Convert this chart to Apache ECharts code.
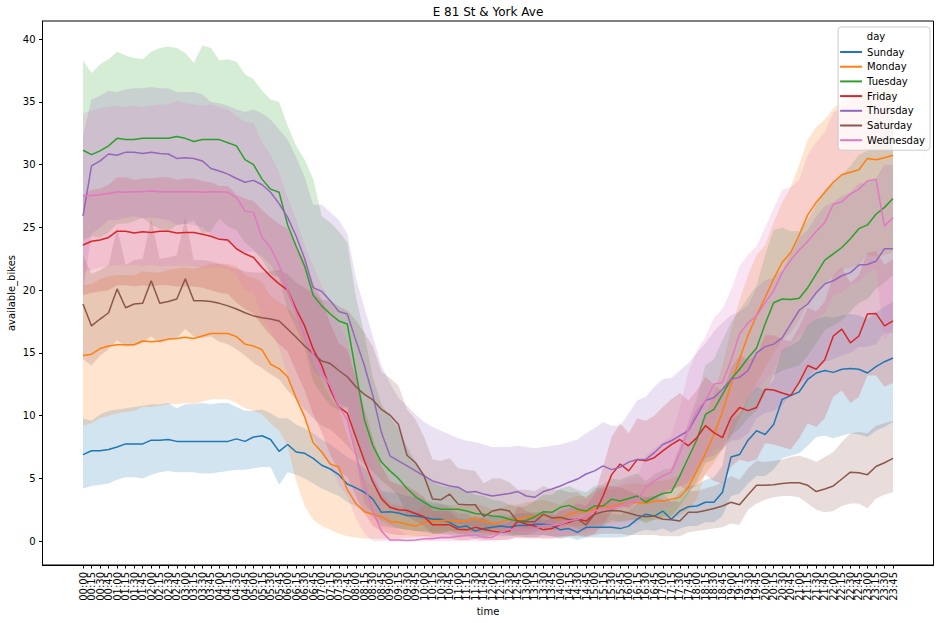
<!DOCTYPE html>
<html><head><meta charset="utf-8">
<script src="https://cdn.jsdelivr.net/npm/echarts@6/dist/echarts.min.js"></script>
<style>html,body{margin:0;padding:0;background:#fff}#c{width:945px;height:623px}</style>
</head><body><div id="c"></div>
<script>
const times = ["00:00","00:15","00:30","00:45","01:00","01:15","01:30","01:45","02:00","02:15","02:30","02:45","03:00","03:15","03:30","03:45","04:00","04:15","04:30","04:45","05:00","05:15","05:30","05:45","06:00","06:15","06:30","06:45","07:00","07:15","07:30","07:45","08:00","08:15","08:30","08:45","09:00","09:15","09:30","09:45","10:00","10:15","10:30","10:45","11:00","11:15","11:30","11:45","12:00","12:15","12:30","12:45","13:00","13:15","13:30","13:45","14:00","14:15","14:30","14:45","15:00","15:15","15:30","15:45","16:00","16:15","16:30","16:45","17:00","17:15","17:30","17:45","18:00","18:15","18:30","18:45","19:00","19:15","19:30","19:45","20:00","20:15","20:30","20:45","21:00","21:15","21:30","21:45","22:00","22:15","22:30","22:45","23:00","23:15","23:30","23:45"];
const days = ["Sunday","Monday","Tuesday","Friday","Thursday","Saturday","Wednesday"];
const yTicks = [0,5,10,15,20,25,30,35,40];

const sunday = [6.9,7.2,7.2,7.3,7.5,7.75,7.75,7.75,8.05,8.05,
8.1,7.95,7.95,7.95,7.95,7.95,7.95,7.95,8.15,7.95,
8.3,8.4,8.1,7.15,7.7,7.1,7.0,6.6,6.05,5.75,
5.3,4.55,4.25,3.9,3.35,2.3,2.35,2.25,2.05,2.0,
1.9,1.75,1.75,1.5,1.1,1.2,0.8,1.0,1.1,1.2,
1.1,1.25,1.25,1.35,1.35,1.25,0.9,1.0,0.7,1.1,
1.1,1.1,1.1,1.0,1.2,1.75,2.15,2.0,2.4,1.75,
2.4,2.75,2.8,3.1,3.1,3.9,6.7,6.9,8.05,8.8,
8.5,9.3,11.3,11.6,11.9,12.9,13.4,13.6,13.45,13.7,
13.75,13.7,13.4,13.9,14.3,14.6];
const sundayLo = [4.2,4.4,4.5,4.6,4.9,5.1,5.1,5.0,5.3,5.5,
5.6,5.5,5.5,5.5,5.4,5.4,5.5,5.6,5.7,5.7,
5.8,5.9,5.9,4.5,5.5,5.3,5.0,4.6,4.2,3.9,
3.6,3.1,2.8,2.4,1.9,1.2,1.1,1.0,0.9,0.8,
0.7,0.6,0.6,0.5,0.3,0.4,0.2,0.3,0.4,0.4,
0.4,0.5,0.5,0.5,0.5,0.4,0.2,0.3,0.1,0.3,
0.3,0.3,0.3,0.3,0.4,0.7,0.9,0.8,1.0,0.7,
1.0,1.2,1.2,1.5,1.5,2.0,3.6,3.8,4.6,5.2,
5.2,5.7,6.6,6.8,7.0,7.6,8.3,8.4,8.2,8.4,
8.6,8.5,8.3,8.8,9.1,9.5];
const sundayHi = [9.8,9.6,10.1,10.4,10.5,10.6,10.7,10.8,10.9,10.9,
11.0,10.6,10.9,10.9,11.0,10.9,11.0,11.0,10.7,10.4,
10.4,10.5,10.2,9.8,9.8,9.3,9.0,8.6,8.1,7.7,
7.2,6.7,6.3,5.8,5.1,4.0,3.9,3.8,3.6,3.5,
3.3,3.1,3.0,2.7,2.2,2.2,1.7,1.9,2.0,2.1,
2.0,2.2,2.2,2.3,2.3,2.2,1.8,1.9,1.6,2.1,
2.2,2.2,2.2,2.1,2.4,3.0,3.5,3.4,3.9,3.1,
3.9,4.4,4.5,4.9,5.1,6.0,9.7,10.1,11.4,12.3,
12.0,12.9,15.3,15.6,16.0,17.2,17.7,17.9,17.8,18.0,
18.1,18.0,17.7,18.2,18.7,19.1];

const monday = [14.8,14.9,15.35,15.55,15.65,15.65,15.65,15.95,15.9,15.95,
16.1,16.15,16.25,16.15,16.35,16.55,16.55,16.55,16.3,15.7,
15.55,15.25,14.1,13.75,13.1,11.4,9.9,7.85,7.1,6.15,
5.9,4.1,3.0,2.35,2.15,1.95,1.55,1.5,1.35,1.2,
1.5,1.6,1.65,1.65,1.6,1.65,1.75,1.6,1.4,1.5,
1.75,1.75,1.9,2.0,2.05,1.9,1.75,2.15,2.35,2.35,
2.55,2.8,2.75,2.95,3.1,3.1,3.0,3.2,3.2,3.35,
3.5,4.3,5.6,7.0,8.5,10.3,12.5,14.5,16.4,18.0,
19.4,20.9,22.2,23.0,24.4,26.0,27.0,27.8,28.6,29.2,
29.4,29.6,30.5,30.4,30.55,30.75];
const mondayLo = [9.2,9.4,9.8,10.0,10.2,10.3,10.4,10.7,10.7,10.8,
10.9,10.9,11.0,10.9,11.1,11.3,11.3,11.3,11.0,10.6,
10.4,10.1,9.4,8.8,7.6,4.8,2.8,1.7,1.2,0.9,
0.6,0.4,0.3,0.2,0.2,0.2,0.2,0.2,0.3,0.3,
0.4,0.5,0.6,0.6,0.6,0.6,0.7,0.6,0.5,0.6,
0.8,0.8,0.9,1.0,1.0,0.9,0.8,1.1,1.2,1.2,
1.3,1.5,1.4,1.6,1.7,1.7,1.6,1.7,1.7,1.8,
2.0,2.5,3.4,5.4,6.2,7.3,8.4,9.8,11.2,12.6,
13.8,15.0,16.0,16.6,17.6,19.0,19.8,20.4,21.1,21.6,
21.8,22.0,22.8,22.7,22.8,23.0];
const mondayHi = [20.4,20.5,20.9,21.1,21.2,21.2,21.2,21.5,21.4,21.4,
21.6,21.7,21.8,21.7,21.9,22.1,22.1,22.1,21.9,21.2,
21.0,20.7,19.5,19.1,18.6,17.8,16.6,14.3,12.8,11.4,
10.6,8.4,6.6,5.0,4.3,3.8,3.0,2.9,2.6,2.3,
2.8,2.9,2.9,2.9,2.8,2.9,3.0,2.8,2.5,2.6,
2.9,2.9,3.1,3.2,3.3,3.1,2.9,3.4,3.6,3.6,
3.9,4.2,4.1,4.4,4.6,4.6,4.5,4.8,4.8,5.0,
5.2,6.3,8.2,10.0,11.8,14.0,16.8,19.2,21.2,22.8,
23.6,25.4,27.0,28.2,30.0,32.0,33.0,33.6,34.5,35.0,
35.3,35.6,36.1,36.2,36.3,36.5];

const tuesday = [31.15,30.8,31.1,31.5,32.1,32.0,32.0,32.1,32.1,32.1,
32.1,32.25,32.1,31.85,32.0,32.0,32.0,31.75,31.5,30.4,
30.0,28.85,28.05,27.8,25.2,23.5,21.9,19.6,18.75,18.1,
17.55,17.3,13.5,9.7,7.6,6.3,5.6,5.0,4.2,3.55,
3.1,2.7,2.55,2.55,2.55,2.4,2.2,2.15,2.0,1.95,
1.75,1.6,1.65,1.95,2.35,2.3,2.7,2.85,2.55,2.4,
2.8,2.8,3.35,3.2,3.4,3.6,3.1,3.5,3.8,3.9,
5.2,6.65,8.1,10.1,10.5,11.7,12.9,13.7,14.6,15.4,
17.3,19.0,19.3,19.25,19.35,20.2,21.3,22.4,22.9,23.4,
24.1,24.9,25.2,26.05,26.6,27.3];
const tuesdayLo = [24.0,24.3,24.2,24.6,25.3,25.3,25.5,25.8,25.2,24.9,
24.7,25.2,25.3,25.6,24.5,24.7,25.7,25.1,24.8,23.8,
23.2,22.4,21.3,21.0,18.4,17.0,15.4,12.7,11.7,10.8,
10.4,10.8,6.5,3.0,2.2,1.6,1.3,1.0,0.9,0.8,
0.8,0.7,0.7,0.8,0.8,0.8,0.7,0.7,0.7,0.7,
0.6,0.5,0.5,0.7,1.0,0.9,1.2,1.3,1.0,0.9,
1.2,1.1,1.7,1.5,1.6,1.8,1.4,1.7,1.9,2.0,
2.8,3.8,4.8,6.2,6.5,7.4,8.4,9.0,9.8,10.4,
11.8,13.2,13.6,13.8,14.0,14.8,15.8,16.8,17.2,17.6,
18.3,19.0,19.3,20.1,20.6,21.2];
const tuesdayHi = [38.3,37.3,38.0,38.4,39.0,38.7,38.5,38.4,39.0,39.3,
39.4,39.3,38.9,38.1,39.5,39.3,38.3,38.4,38.2,37.2,
36.8,35.9,35.2,35.0,33.1,31.5,30.4,28.85,25.9,25.4,
24.7,23.8,19.5,16.5,13.0,10.9,9.9,9.0,7.5,6.3,
5.4,4.7,4.4,4.3,4.3,4.0,3.7,3.6,3.3,3.2,
2.9,2.7,2.8,3.2,3.7,3.7,4.2,4.4,4.1,3.9,
4.4,4.5,5.0,4.9,5.2,5.4,4.8,5.3,5.7,5.8,
7.6,9.5,11.4,14.0,14.5,16.0,17.4,18.4,19.4,20.4,
22.8,24.8,25.0,24.7,24.7,25.6,26.8,28.0,28.6,29.2,
29.9,30.8,31.1,32.0,32.6,33.4];

const friday = [23.6,23.9,24.0,24.2,24.7,24.7,24.55,24.65,24.6,24.7,
24.7,24.55,24.6,24.6,24.45,24.3,24.05,24.0,23.3,22.9,
22.6,21.8,21.1,20.5,20.0,18.5,17.15,15.3,14.0,12.1,
10.7,10.2,8.3,6.4,4.7,3.4,2.7,2.5,2.45,2.2,
1.95,1.3,1.3,1.3,0.95,0.9,1.1,0.95,0.8,0.7,
0.8,1.6,1.35,1.2,0.9,1.0,1.35,1.5,1.75,1.6,
2.15,3.6,5.3,6.15,5.6,6.5,6.4,6.65,7.2,7.7,
8.1,7.6,8.25,9.2,8.65,8.25,9.85,10.65,10.4,10.65,
12.1,12.05,11.8,11.6,12.65,14.0,13.7,14.45,16.35,16.9,
15.8,16.35,18.1,18.15,17.15,17.55];
const fridayLo = [19.6,19.8,19.9,20.0,20.4,20.4,20.3,20.4,20.3,20.4,
20.4,20.3,20.3,20.3,20.2,20.0,19.8,19.7,19.0,18.5,
18.1,17.2,16.4,15.7,15.1,13.5,12.0,10.1,8.7,6.9,
5.6,5.1,3.6,2.2,1.2,0.8,0.6,0.5,0.5,0.4,
0.4,0.2,0.2,0.2,0.1,0.1,0.2,0.1,0.1,0.1,
0.1,0.4,0.3,0.3,0.2,0.2,0.3,0.4,0.5,0.4,
0.6,1.3,2.3,2.9,2.6,3.2,3.2,3.3,3.7,4.1,
4.4,4.0,4.5,5.3,4.8,4.6,5.9,6.5,6.3,6.5,
7.8,7.7,7.5,7.3,8.2,9.4,9.1,9.8,11.5,12.0,
11.0,11.5,13.2,13.2,12.3,12.6];
const fridayHi = [27.6,28.0,28.1,28.4,29.0,29.0,28.8,28.9,28.9,29.0,
29.0,28.8,28.9,28.9,28.7,28.6,28.3,28.3,27.6,27.3,
27.1,26.4,25.8,25.3,24.9,23.5,22.3,20.5,19.3,17.3,
15.8,15.3,13.0,10.6,8.2,6.0,4.8,4.5,4.4,4.0,
3.5,2.4,2.4,2.4,1.8,1.7,2.0,1.8,1.5,1.3,
1.5,2.8,2.4,2.1,1.6,1.8,2.4,2.6,3.0,2.8,
3.7,5.9,8.3,9.4,8.6,9.8,9.6,10.0,10.7,11.3,
11.8,11.2,12.0,13.1,12.5,11.9,13.8,14.8,14.5,14.8,
16.4,16.4,16.1,15.9,17.1,18.6,18.3,19.1,21.2,21.8,
20.6,21.2,23.0,23.1,22.0,22.5];

const thursday = [25.9,29.9,30.3,30.85,30.75,31.0,31.0,30.9,31.0,30.9,
30.85,30.5,30.55,30.5,30.3,29.7,29.5,29.25,28.9,28.6,
28.75,28.4,27.8,26.9,25.8,24.3,22.5,20.2,19.9,19.15,
18.3,18.1,16.0,14.0,11.6,8.65,6.8,6.4,6.0,5.6,
5.2,4.8,4.6,4.4,4.3,3.9,3.95,3.75,3.6,3.7,
3.8,3.95,3.6,3.5,3.95,4.15,4.4,4.7,4.95,5.35,
5.6,6.0,5.7,5.9,6.3,6.5,6.5,7.05,7.7,8.0,
8.4,8.8,10.0,11.2,11.45,12.1,12.9,13.05,13.6,15.0,
15.5,15.7,16.2,17.3,18.4,18.9,19.8,20.5,20.75,21.15,
21.4,22.0,22.05,22.3,23.3,23.3];
const thursdayLo = [19.8,24.5,25.0,25.6,25.6,25.8,25.9,25.7,25.8,25.7,
25.6,25.2,25.3,25.2,25.0,24.4,24.1,23.8,23.4,23.0,
23.1,22.7,22.0,21.0,19.6,18.0,16.0,13.6,13.0,12.1,
11.0,10.6,8.5,6.6,4.6,3.2,2.5,2.3,2.1,1.9,
1.7,1.6,1.5,1.4,1.4,1.2,1.2,1.1,1.0,1.1,
1.1,1.2,1.0,1.0,1.3,1.4,1.6,1.8,2.0,2.2,
2.4,2.7,2.4,2.6,2.9,3.0,3.0,3.4,3.9,4.1,
4.4,4.7,5.6,6.6,6.8,7.3,8.0,8.1,8.6,9.8,
10.2,10.4,10.8,11.7,12.6,13.0,13.7,14.3,14.5,14.8,
15.0,15.5,15.5,15.7,16.6,16.6];
const thursdayHi = [32.3,35.2,35.5,35.9,35.8,36.0,36.1,36.1,36.2,36.1,
36.1,35.8,35.8,35.8,35.6,35.0,34.9,34.7,34.4,34.2,
34.4,34.1,33.6,32.8,32.0,30.6,29.0,26.8,26.8,26.2,
25.6,24.5,21.0,18.6,16.3,14.0,12.6,11.4,10.8,10.1,
9.5,9.1,8.8,8.5,8.2,8.0,7.9,7.7,7.5,7.5,
7.5,7.6,7.5,7.4,7.5,7.6,7.7,7.9,8.1,8.6,
9.0,9.5,9.2,9.2,10.2,11.2,11.5,12.3,12.9,13.0,
13.6,14.2,15.0,15.8,16.7,17.4,18.0,18.3,18.8,20.2,
20.8,21.0,21.6,22.9,24.2,24.8,25.9,26.7,27.0,27.5,
27.8,28.5,28.6,28.9,30.0,30.0];

const saturday = [18.9,17.15,17.7,18.2,20.1,18.6,18.9,18.95,20.75,18.95,
19.1,19.3,20.9,19.15,19.15,19.1,18.95,18.75,18.5,18.2,
17.95,17.8,17.7,17.55,16.9,16.25,15.55,14.95,14.35,14.15,
13.6,13.1,12.3,11.7,11.25,10.5,10.05,9.3,6.85,6.25,
5.2,3.35,3.3,3.75,2.95,2.9,2.9,1.95,2.4,2.55,
2.4,1.55,1.55,1.55,2.15,1.85,1.9,1.7,1.75,1.3,
2.15,2.35,2.45,2.4,2.25,2.05,1.95,2.0,1.75,1.7,
1.6,2.3,2.3,2.45,2.6,2.8,3.1,2.9,3.7,4.45,
4.45,4.5,4.6,4.65,4.65,4.45,3.95,4.15,4.4,4.95,
5.5,5.45,5.3,5.95,6.25,6.6];
const saturdayLo = [14.5,14.0,14.8,15.3,16.0,15.5,15.6,15.8,16.3,15.8,
16.0,16.2,16.9,16.3,16.2,16.3,15.9,15.7,15.3,14.8,
14.2,13.8,13.3,12.9,12.0,11.3,10.5,9.8,9.2,8.9,
8.3,7.6,6.8,6.1,5.6,4.8,4.3,3.6,2.0,1.6,
1.2,0.6,0.6,0.8,0.6,0.5,0.5,0.3,0.5,0.6,
0.5,0.3,0.3,0.3,0.5,0.4,0.4,0.4,0.4,0.3,
0.5,0.6,0.6,0.6,0.5,0.5,0.5,0.5,0.4,0.4,
0.4,0.7,0.8,0.9,1.0,1.1,1.4,1.3,2.5,3.0,
3.3,3.5,3.6,3.6,3.5,3.0,2.5,2.3,2.4,2.8,
3.0,3.0,2.6,3.4,3.7,3.9];
const saturdayHi = [22.8,21.3,21.6,22.0,25.0,22.0,22.4,22.5,25.7,22.5,
22.6,22.8,25.8,22.4,22.4,22.3,22.1,21.9,21.7,21.5,
21.4,21.4,21.5,21.6,21.3,20.6,20.2,19.8,19.2,19.2,
18.7,18.4,17.6,16.6,15.5,13.5,13.0,12.4,10.5,9.7,
8.3,6.5,6.4,6.6,5.8,5.7,5.6,4.6,5.0,5.0,
4.7,4.1,4.1,4.0,4.4,4.1,4.1,3.9,3.9,3.4,
4.2,4.3,4.4,4.3,4.0,3.7,3.5,3.6,3.3,3.2,
3.1,4.0,4.0,4.2,4.4,4.7,5.2,4.9,5.8,6.4,
6.3,6.4,6.5,6.7,6.8,6.6,6.3,6.7,7.1,7.9,
8.6,8.7,8.6,9.2,9.4,9.6];

const wednesday = [27.5,27.55,27.6,27.7,27.85,27.8,27.85,27.85,27.9,27.85,
27.85,27.85,27.85,27.85,27.8,27.85,27.85,27.8,27.4,26.3,
26.2,24.2,23.4,22.0,20.0,18.2,16.35,14.9,13.45,12.4,
10.7,9.7,6.9,4.5,2.4,0.8,0.1,0.1,0.05,0.1,
0.2,0.2,0.3,0.3,0.4,0.45,0.5,0.3,0.3,0.7,
0.95,0.95,0.8,1.0,1.25,1.25,1.35,1.6,1.75,2.0,
2.4,2.65,2.65,2.8,3.1,3.2,4.3,4.8,5.2,5.5,
7.05,8.9,10.4,11.2,12.5,12.65,14.4,16.5,17.4,17.95,
19.0,19.95,21.4,22.4,23.2,23.9,24.7,25.4,26.85,27.05,
27.65,28.05,28.7,28.85,25.1,25.8];
const wednesdayLo = [21.4,21.6,21.8,21.9,22.0,21.9,22.0,21.9,22.0,21.9,
21.9,21.9,21.9,21.9,21.8,21.8,21.8,21.7,21.2,20.0,
19.8,17.8,16.9,15.4,13.3,11.5,9.7,8.3,6.9,6.0,
4.5,3.6,1.8,0.6,0.0,0.0,0.0,0.0,0.0,0.0,
0.0,0.0,0.0,0.0,0.0,0.0,0.0,0.0,0.0,0.1,
0.2,0.2,0.2,0.2,0.3,0.3,0.4,0.5,0.6,0.7,
0.9,1.0,1.0,1.1,1.3,1.4,2.0,2.3,2.6,2.7,
3.6,4.6,5.8,6.4,7.4,7.5,8.9,10.6,11.4,12.0,
12.8,13.6,14.9,15.7,16.4,17.0,17.7,18.2,19.6,19.8,
20.4,20.7,21.4,21.6,16.0,17.0];
const wednesdayHi = [34.1,34.3,34.5,34.6,34.7,34.6,34.7,34.6,34.7,34.8,
34.8,35.1,34.9,34.8,34.7,34.8,34.6,34.4,33.9,33.4,
33.3,31.8,30.8,29.4,27.4,25.6,23.6,21.9,20.4,19.1,
17.3,16.0,13.0,9.6,6.5,3.6,1.8,0.9,0.5,0.4,
0.5,0.5,0.7,0.8,0.9,1.0,1.1,0.8,0.8,1.5,
1.9,1.9,1.6,1.9,2.4,2.4,2.5,2.9,3.1,3.4,
3.9,4.3,4.4,4.6,5.0,5.1,6.8,7.4,7.9,8.4,
10.6,13.5,15.2,16.3,17.8,18.5,20.0,21.9,22.8,23.5,
25.0,26.5,28.0,28.2,28.8,30.8,31.8,32.6,34.2,34.4,
35.0,35.5,36.1,36.2,33.6,34.6];

const means = [sunday, monday, tuesday, friday, thursday, saturday, wednesday];
const lows = [sundayLo, mondayLo, tuesdayLo, fridayLo, thursdayLo, saturdayLo, wednesdayLo];
const highs = [sundayHi, mondayHi, tuesdayHi, fridayHi, thursdayHi, saturdayHi, wednesdayHi];
const colors = ["#1f77b4","#ff7f0e","#2ca02c","#d62728","#9467bd","#8c564b","#e377c2"];
const FONT = "DejaVu Sans";

function rgba(hex, a) {
  const n = parseInt(hex.slice(1), 16);
  return "rgba(" + ((n >> 16) & 255) + "," + ((n >> 8) & 255) + "," + (n & 255) + "," + a + ")";
}

const idx = times.map((t, i) => i);
const evenIdx = idx.filter(i => i % 2 === 0);
const oddIdx = idx.filter(i => i % 2 === 1);
const series = [];
days.forEach((d, k) => {
  series.push({
    type: "custom", name: d + " band", silent: true, z: 1, animation: false,
    xAxisIndex: 0, data: [[0, 0]],
    renderItem: function (params, api) {
      const pts = [];
      for (let i = 0; i < times.length; i++) pts.push(api.coord([i, highs[k][i]]));
      for (let i = times.length - 1; i >= 0; i--) pts.push(api.coord([i, lows[k][i]]));
      return { type: "polygon", shape: { points: pts }, style: { fill: rgba(colors[k], 0.2), stroke: "none" } };
    }
  });
});
days.forEach((d, k) => {
  series.push({
    type: "line", name: d, z: 3, animation: false, xAxisIndex: 0,
    data: means[k].map((v, i) => [i, v]),
    showSymbol: false, symbol: "none",
    lineStyle: { width: 1.5, color: colors[k] },
    itemStyle: { color: colors[k] }
  });
});

function xLabelAxis(values, withLine) {
  return {
    type: "value", min: -4.75, max: 99.75, position: "bottom",
    name: withLine ? "time" : "", nameLocation: "middle", nameGap: 41, nameMoveOverlap: false,
    nameTextStyle: { fontFamily: FONT, fontSize: 10, color: "#000" },
    axisLine: { show: withLine, onZero: false, lineStyle: { color: "#000", width: 1 } },
    axisTick: { show: withLine, length: 3.5, customValues: idx, lineStyle: { color: "#000" } },
    axisLabel: { customValues: values, rotate: 90, margin: 7, fontFamily: FONT, fontSize: 10, color: "#000",
      showMinLabel: true, showMaxLabel: true, hideOverlap: false,
      formatter: function (v) { return times[Math.round(v)]; } },
    splitLine: { show: false }
  };
}

const chart = echarts.init(document.getElementById("c"), null, { renderer: "svg" });
chart.setOption({
  animation: false,
  grid: { left: 42.5, right: 11.5, top: 21, bottom: 58, show: true, borderColor: "#000", borderWidth: 1, containLabel: false, outerBoundsMode: "none" },
  xAxis: [xLabelAxis(evenIdx, true), xLabelAxis(oddIdx, false)],
  yAxis: {
    type: "value", min: -1.9, max: 41.45,
    name: "available_bikes", nameLocation: "middle", nameGap: 26, nameRotate: 90, nameMoveOverlap: false,
    nameTextStyle: { fontFamily: FONT, fontSize: 10, color: "#000" },
    axisLine: { show: true, onZero: false, lineStyle: { color: "#000", width: 1 } },
    axisTick: { show: true, length: 3.5, customValues: yTicks, lineStyle: { color: "#000" } },
    axisLabel: { customValues: yTicks, margin: 7, fontFamily: FONT, fontSize: 10, color: "#000", showMinLabel: true, showMaxLabel: true },
    splitLine: { show: false }
  },
  legend: {
    data: days, orient: "vertical", right: 15, top: 27,
    icon: "rect", itemWidth: 22, itemHeight: 2, itemGap: 2.7,
    padding: [19, 5, 4, 2],
    backgroundColor: "rgba(255,255,255,0.8)", borderColor: "#cccccc", borderWidth: 1, borderRadius: 3,
    textStyle: { fontFamily: FONT, fontSize: 10, color: "#000", lineHeight: 12 },
    selectedMode: false, z: 10
  },
  graphic: [
    { type: "text", x: 488, y: 12, z: 100, style: { text: "E 81 St & York Ave", fontFamily: FONT, fontSize: 12, fill: "#000", align: "center", verticalAlign: "middle" } },
    { type: "text", x: 876, y: 36, z: 100, style: { text: "day", fontFamily: FONT, fontSize: 10, fill: "#000", align: "center", verticalAlign: "middle" } }
  ],
  series: series
});
</script>
</body></html>
